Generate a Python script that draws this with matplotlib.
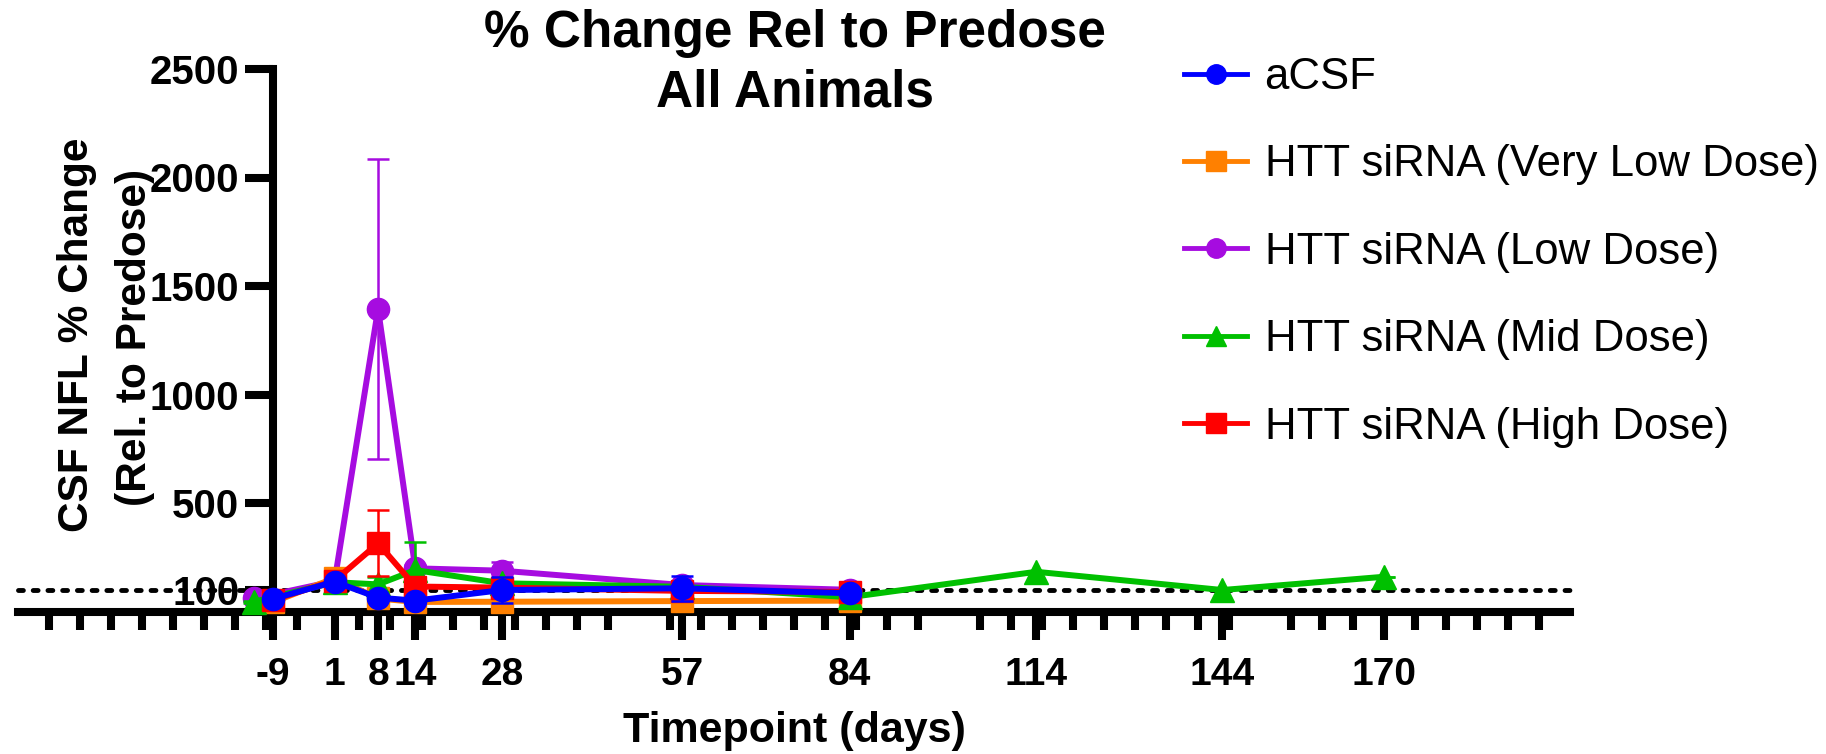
import matplotlib
matplotlib.use("Agg")
import matplotlib.pyplot as plt
from matplotlib.lines import Line2D

plt.rcParams['font.family'] = ['Liberation Sans', 'DejaVu Sans']

# ---------------- data ----------------
tick_days = [-9, 1, 8, 14, 28, 57, 84, 114, 144, 170]
y_ticks = [100, 500, 1000, 1500, 2000, 2500]

acsf_days = [-9, 1, 8, 14, 28, 57, 84]
acsf_vals = [58, 137, 64, 50, 99, 107, 84]
acsf_err = [5, 10, 10, 8, 58, 58, 10]

vlow_days = [-9, 1, 8, 14, 28, 57, 84]
vlow_vals = [42, 154, 60, 44, 45, 48, 50]
vlow_err = [5, 10, 8, 8, 8, 8, 8]

low_days = [-12, 1, 8, 14, 28, 57, 84]
low_vals = [60, 140, 1394, 199, 188, 122, 100]
low_err = [5, 10, 690, 15, 42, 10, 8]

mid_days = [-12, 1, 8, 14, 28, 57, 84, 114, 144, 170]
mid_vals = [45, 135, 125, 191, 130, 114, 66, 183, 99, 160]
mid_err = [5, 10, 35, 128, 10, 10, 8, 0, 0, 0]

high_days = [-9, 1, 8, 14, 28, 57, 84]
high_vals = [53, 142, 314, 115, 110, 95, 90]
high_err = [5, 10, 152, 10, 10, 10, 8]

labels = ["aCSF", "HTT siRNA (Very Low Dose)", "HTT siRNA (Low Dose)",
          "HTT siRNA (Mid Dose)", "HTT siRNA (High Dose)"]
colors = ["#0000FF", "#FF8000", "#A60CE0", "#00C000", "#FF0000"]
markers = ["o", "s", "o", "^", "s"]

# ---------------- figure ----------------
W, H = 1826, 754
fig = plt.figure(figsize=(W / 100, H / 100), dpi=100)
ax = fig.add_axes([18 / W, (H - 611.5) / H, 1552 / W, 542.5 / H])
ax.set_xlim(-50, 200)
ax.set_ylim(0, 2500)

series = [
    (acsf_days, acsf_vals, acsf_err, 6),
    (vlow_days, vlow_vals, vlow_err, 3),
    (low_days, low_vals, low_err, 2),
    (mid_days, mid_vals, mid_err, 4),
    (high_days, high_vals, high_err, 5),
]
msizes = [16, 16.5, 16, 17, 16.5]
for (d, v, e, z), c, m, ms in zip(series, colors, markers, msizes):
    ax.errorbar(d, v, yerr=e, color=c, lw=4.3, marker=m, ms=ms,
                mec=c, mfc=c, elinewidth=1.8, capsize=8, capthick=1.8,
                zorder=z, clip_on=False)

ax.axhline(100, color='black', lw=3.5, dashes=(1, 2.03),
           dash_capstyle='round', zorder=1, clip_on=False)

# spines
for s in ['top', 'right']:
    ax.spines[s].set_visible(False)
ax.spines['left'].set_position(('data', -9))
ax.spines['left'].set_bounds(0, 2500)
ax.spines['bottom'].set_position(('data', 0))
for s in ['left', 'bottom']:
    ax.spines[s].set_linewidth(5.8)
    ax.spines[s].set_zorder(0.5)

ax.set_yticks(y_ticks)
ax.set_yticklabels([str(t) for t in y_ticks], fontweight='bold')
ax.tick_params(axis='y', length=20, width=5.8, pad=4, labelsize=29)

ax.set_xticks(tick_days)
ax.set_xticklabels([str(t) for t in tick_days], fontweight='bold')
minor = [t for t in range(-45, 200, 5) if t % 50 != 0]
ax.set_xticks(minor, minor=True)
ax.tick_params(axis='x', which='major', length=20, width=5.8, pad=13, labelsize=28)
ax.tick_params(axis='x', which='minor', length=13, width=5.8)

# titles / labels
fig.text(795 / W, 1 - 33 / H, "% Change Rel to Predose", ha='center', va='center',
         fontsize=37, fontweight='bold')
fig.text(795 / W, 1 - 93 / H, "All Animals", ha='center', va='center',
         fontsize=37, fontweight='bold')
fig.text(77 / W, 1 - 335 / H, "CSF NFL % Change", rotation=90, ha='center',
         va='center', fontsize=30.5, fontweight='bold')
fig.text(135 / W, 1 - 337 / H, "(Rel. to Predose)", rotation=90, ha='center',
         va='center', fontsize=30.5, fontweight='bold')
fig.text(794 / W, 1 - 731 / H, "Timepoint (days)", ha='center', va='center',
         fontsize=31, fontweight='bold')

# legend
handles = [Line2D([0], [0], color=c, lw=3.5, marker=m, ms=14, mec=c, mfc=c)
           for c, m in zip(colors, markers)]
leg = fig.legend(handles, labels, loc='upper left',
                 bbox_to_anchor=(1184 / W, 1 - 57 / H), frameon=False,
                 fontsize=31.5, handlelength=1.44, handletextpad=0.4,
                 labelspacing=1.06, borderpad=0, borderaxespad=0)

fig.savefig("out.png", dpi=100)
